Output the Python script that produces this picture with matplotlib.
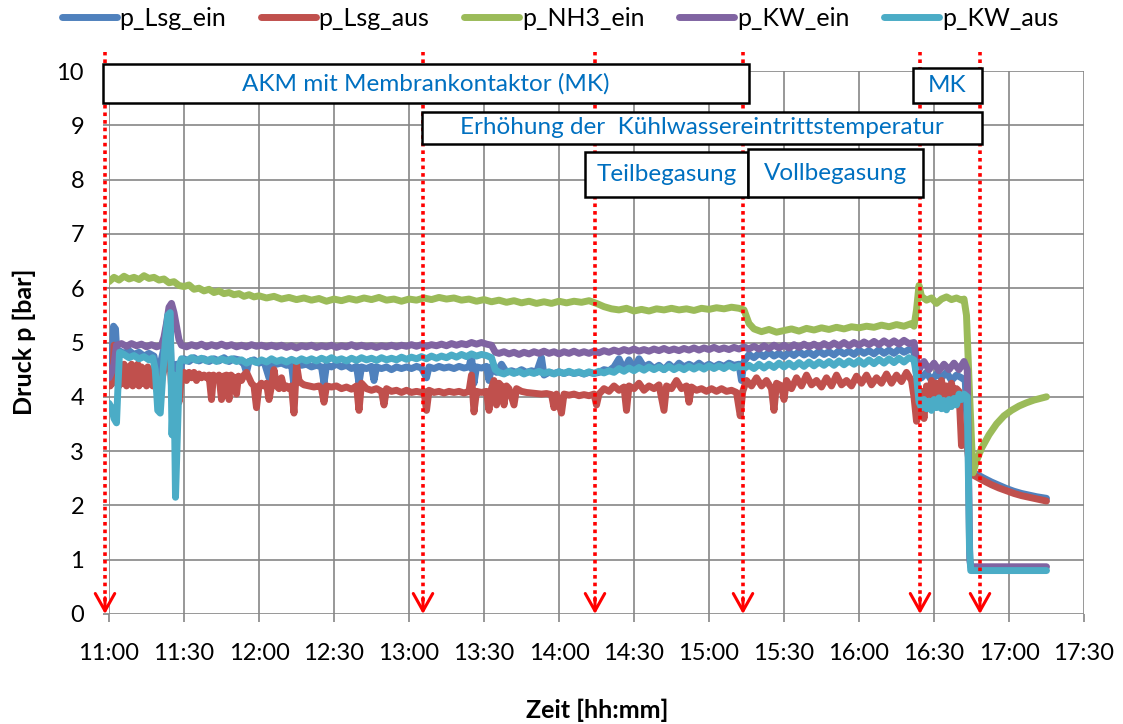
import matplotlib
matplotlib.use("Agg")
import matplotlib.pyplot as plt
from matplotlib.patches import Rectangle

plt.rcParams['font.family'] = ['Lato', 'DejaVu Sans']

# Messwerte: (Minuten ab 11:00, Druck in bar)
p_Lsg_ein = [
    (0, 4.3), (1, 4.5), (1.8, 5.3), (2.6, 5.25), (3.2, 4.75), (4, 4.85), (6, 4.8), (8, 4.85), (10, 4.78),
    (12, 4.82), (14, 4.75), (16, 4.8), (18, 4.75), (19, 4.5), (20, 4.3), (21, 4.7), (22, 4.9), (23, 5.3),
    (24, 5.55), (25, 4.5), (26, 3.6), (27, 4.6), (28, 4.0), (29, 4.6), (30, 4.7), (32, 4.65), (34, 4.72),
    (36, 4.66), (38, 4.7), (40, 4.65), (42, 4.7), (44, 4.66), (46, 4.72), (48, 4.65), (50, 4.7), (52, 4.68),
    (54, 4.6), (55, 4.45), (56, 4.65), (58, 4.68), (60, 4.62), (62, 4.65), (64, 4.35), (65, 4.65), (67, 4.6),
    (69, 4.62), (71, 4.58), (73, 4.6), (74, 4.2), (75, 4.6), (77, 4.58), (79, 4.6), (81, 4.55), (83, 4.58),
    (85, 4.55), (86, 4.25), (87, 4.58), (89, 4.55), (91, 4.6), (93, 4.55), (95, 4.58), (97, 4.52), (99, 4.56),
    (100, 4.25), (101, 4.55), (103, 4.52), (105, 4.56), (106, 4.3), (107, 4.55), (109, 4.52), (111, 4.55),
    (113, 4.5), (115, 4.55), (117, 4.52), (119, 4.55), (121, 4.52), (123, 4.56), (125, 4.53), (127, 4.35),
    (128, 4.55), (130, 4.52), (132, 4.56), (134, 4.53), (136, 4.55), (138, 4.52), (140, 4.56), (142, 4.53),
    (144, 4.55), (145, 4.75), (146, 4.25), (147, 4.55), (149, 4.53), (151, 4.56), (152, 4.3), (153, 4.55),
    (155, 4.45), (157, 4.6), (159, 4.45), (161, 4.48), (163, 4.45), (165, 4.5), (167, 4.45), (169, 4.48),
    (171, 4.45), (173, 4.72), (174, 4.4), (176, 4.45), (178, 4.43), (180, 4.46), (182, 4.43), (184, 4.46),
    (186, 4.43), (188, 4.45), (190, 4.42), (192, 4.45), (194, 4.43), (196, 4.45), (198, 4.5), (200, 4.48),
    (202, 4.55), (204, 4.7), (206, 4.5), (208, 4.68), (210, 4.52), (212, 4.7), (214, 4.55), (216, 4.6),
    (218, 4.52), (220, 4.58), (222, 4.5), (224, 4.6), (226, 4.52), (228, 4.62), (230, 4.55), (232, 4.6),
    (234, 4.55), (236, 4.62), (238, 4.55), (240, 4.6), (242, 4.55), (244, 4.6), (246, 4.56), (248, 4.62),
    (250, 4.58), (252, 4.6), (253, 4.3), (254, 4.65), (256, 4.78), (258, 4.72), (260, 4.8), (262, 4.74),
    (264, 4.82), (266, 4.75), (268, 4.8), (270, 4.74), (272, 4.82), (274, 4.76), (276, 4.83), (278, 4.77),
    (280, 4.82), (282, 4.76), (284, 4.84), (286, 4.78), (288, 4.83), (290, 4.77), (292, 4.85), (294, 4.79),
    (296, 4.84), (298, 4.78), (300, 4.86), (302, 4.8), (304, 4.85), (306, 4.79), (308, 4.87), (310, 4.8),
    (312, 4.86), (314, 4.8), (316, 4.88), (318, 4.82), (320, 4.87), (322, 4.85), (323, 4.4), (325, 4.35),
    (327, 4.45), (329, 4.3), (331, 4.42), (333, 4.35), (335, 4.45), (337, 4.3), (339, 4.4), (341, 4.35),
    (342.5, 4.3), (343.5, 3.2), (344.5, 2.65), (346, 2.6), (348, 2.55), (350, 2.5), (353, 2.43), (356, 2.37),
    (359, 2.31), (362, 2.26), (365, 2.22), (368, 2.19), (371, 2.16), (375, 2.13),
]

p_Lsg_aus = [
    (0, 4.45), (0.5, 4.2), (1, 4.5), (1.5, 4.25), (2, 4.95), (2.5, 4.9), (3, 4.3), (3.5, 4.6), (4, 4.2),
    (5, 4.55), (5.5, 4.25), (6, 4.6), (7, 4.2), (7.5, 4.55), (8, 4.3), (9, 4.6), (9.5, 4.2), (10, 4.5),
    (11, 4.25), (11.5, 4.6), (12, 4.2), (13, 4.55), (13.5, 4.25), (14, 4.5), (15, 4.2), (15.5, 4.55),
    (16, 4.25), (17, 4.5), (17.5, 4.2), (18, 4.45), (19, 4.2), (20, 3.9), (21, 4.3), (22, 4.5), (23, 4.6),
    (24, 5.0), (25, 4.2), (26, 3.6), (27, 4.3), (28, 3.9), (29, 4.4), (30, 4.45), (31, 4.3), (32, 4.45),
    (33, 4.35), (34, 4.45), (35, 4.3), (36, 4.42), (37, 4.35), (38, 4.4), (39, 4.35), (40, 4.4), (41, 3.95),
    (41.8, 4.4), (43, 4.35), (44, 4.4), (45, 3.95), (45.8, 4.38), (47, 4.4), (48, 3.95), (48.8, 4.4),
    (50, 4.35), (51, 4.05), (51.8, 4.38), (53, 4.3), (54, 4.4), (55, 4.45), (56, 4.35), (57, 4.25),
    (58, 4.2), (59, 3.8), (60, 4.2), (61, 4.25), (62, 4.2), (63, 4.25), (64, 3.95), (65, 4.2), (66, 4.5),
    (67, 4.2), (68, 4.15), (69, 4.35), (70, 4.15), (71, 4.2), (72, 4.15), (73, 4.2), (74, 3.7), (75, 4.6),
    (76, 4.3), (77, 4.25), (78, 4.22), (80, 4.2), (82, 4.18), (84, 4.2), (85, 4.15), (86, 3.9), (87, 4.2),
    (89, 4.18), (91, 4.2), (93, 4.15), (95, 4.18), (97, 4.14), (99, 4.2), (100, 3.75), (101, 4.25),
    (103, 4.15), (105, 4.12), (107, 4.15), (109, 4.1), (110, 3.85), (111, 4.15), (113, 4.1), (115, 4.12),
    (117, 4.08), (119, 4.12), (121, 4.08), (123, 4.1), (125, 4.08), (126, 4.1), (127, 3.75), (128, 4.12),
    (130, 4.08), (132, 4.1), (134, 4.07), (136, 4.1), (138, 4.08), (140, 4.1), (142, 4.07), (144, 4.1),
    (145, 4.4), (146, 3.72), (147, 4.1), (149, 4.08), (151, 4.1), (152, 3.75), (153, 4.15), (154, 4.3),
    (155, 3.85), (156, 4.25), (157, 4.2), (158, 3.85), (159, 4.2), (160, 4.15), (162, 3.85), (163, 4.15),
    (165, 4.1), (167, 4.08), (169, 4.07), (171, 4.06), (173, 4.05), (175, 4.06), (177, 4.04), (178, 3.8),
    (179, 4.05), (181, 3.7), (182, 4.05), (184, 4.03), (186, 4.05), (188, 4.02), (190, 4.04), (192, 4.02),
    (194, 4.05), (195, 3.85), (196, 4.05), (198, 4.15), (200, 4.1), (202, 4.2), (204, 4.12), (206, 4.18),
    (207, 3.75), (208, 4.2), (210, 4.15), (212, 4.25), (214, 4.12), (216, 4.2), (218, 4.15), (220, 4.22),
    (222, 3.75), (223, 4.2), (225, 4.15), (227, 4.3), (229, 4.15), (231, 4.2), (232, 3.9), (233, 4.18),
    (235, 4.12), (237, 4.15), (239, 4.1), (241, 4.15), (243, 4.1), (245, 4.15), (247, 4.1), (249, 4.12),
    (251, 4.08), (252.5, 3.65), (253.5, 4.1), (255, 4.3), (257, 4.2), (259, 4.35), (261, 4.2), (263, 4.3),
    (265, 4.15), (266, 3.75), (267, 4.25), (269, 4.2), (270, 3.95), (271, 4.3), (273, 4.15), (275, 4.35),
    (277, 4.2), (279, 4.4), (281, 4.22), (283, 4.3), (285, 4.18), (287, 4.35), (289, 4.2), (291, 4.4),
    (293, 4.22), (295, 4.3), (297, 4.2), (299, 4.38), (301, 4.25), (303, 4.4), (305, 4.22), (307, 4.35),
    (309, 4.25), (311, 4.42), (313, 4.25), (315, 4.4), (317, 4.28), (319, 4.45), (321, 4.3), (322, 4.0),
    (323, 3.55), (324, 3.7), (325, 4.1), (326, 3.6), (327, 4.2), (328, 3.9), (329, 4.3), (330, 4.0),
    (331, 4.25), (332, 3.95), (333, 4.3), (334, 4.05), (335, 4.2), (336, 3.9), (337, 4.25), (338, 4.0),
    (339, 4.15), (340, 4.1), (341, 3.1), (341.8, 3.4), (342.5, 3.3), (343.5, 3.0), (344.5, 2.6),
    (346, 2.55), (348, 2.5), (350, 2.45), (353, 2.38), (356, 2.32), (359, 2.27), (362, 2.22), (365, 2.18),
    (368, 2.15), (371, 2.12), (375, 2.08),
]

p_NH3_ein = [
    (0, 6.12), (2, 6.2), (4, 6.15), (6, 6.22), (8, 6.17), (10, 6.2), (12, 6.16), (14, 6.23), (16, 6.18),
    (18, 6.2), (20, 6.15), (22, 6.17), (24, 6.1), (26, 6.12), (28, 6.05), (30, 6.03), (32, 6.06), (34, 5.98),
    (36, 6.0), (38, 5.95), (40, 5.98), (42, 5.92), (44, 5.95), (46, 5.9), (48, 5.92), (50, 5.88), (52, 5.9),
    (54, 5.85), (56, 5.88), (58, 5.84), (60, 5.86), (63, 5.82), (66, 5.85), (69, 5.8), (72, 5.83),
    (75, 5.79), (78, 5.82), (81, 5.78), (84, 5.81), (87, 5.76), (90, 5.8), (93, 5.77), (96, 5.81),
    (99, 5.78), (102, 5.82), (105, 5.79), (108, 5.83), (111, 5.78), (114, 5.8), (117, 5.76), (120, 5.8),
    (123, 5.78), (126, 5.82), (129, 5.79), (132, 5.83), (135, 5.8), (138, 5.82), (141, 5.78), (144, 5.8),
    (147, 5.76), (150, 5.79), (153, 5.75), (156, 5.78), (159, 5.74), (162, 5.77), (165, 5.73), (168, 5.76),
    (171, 5.72), (174, 5.75), (177, 5.72), (180, 5.76), (183, 5.73), (186, 5.76), (189, 5.74), (192, 5.77),
    (195, 5.72), (198, 5.66), (201, 5.62), (204, 5.6), (207, 5.63), (210, 5.58), (213, 5.61), (216, 5.58),
    (219, 5.62), (222, 5.6), (225, 5.63), (228, 5.6), (231, 5.62), (234, 5.59), (237, 5.63), (240, 5.61),
    (243, 5.64), (246, 5.62), (249, 5.65), (252, 5.63), (254, 5.6), (256, 5.35), (258, 5.25), (261, 5.2),
    (264, 5.24), (267, 5.19), (270, 5.22), (273, 5.25), (276, 5.21), (279, 5.26), (282, 5.23), (285, 5.27),
    (288, 5.24), (291, 5.28), (294, 5.25), (297, 5.29), (300, 5.27), (303, 5.3), (306, 5.28), (309, 5.32),
    (312, 5.29), (315, 5.33), (318, 5.3), (321, 5.35), (322, 5.3), (323, 5.6), (324, 6.05), (325, 5.85),
    (327, 5.78), (329, 5.82), (331, 5.72), (333, 5.8), (335, 5.84), (337, 5.79), (339, 5.82), (341, 5.78),
    (342, 5.8), (343, 5.5), (344, 4.3), (345, 3.2), (345.6, 2.6), (347, 2.82), (349, 3.05), (352, 3.3),
    (355, 3.5), (358, 3.65), (361, 3.75), (364, 3.83), (367, 3.89), (370, 3.94), (375, 4.0),
]

p_KW_ein = [
    (0, 4.35), (1, 4.45), (2, 4.6), (3, 4.95), (5, 4.98), (7, 4.93), (9, 4.98), (11, 4.94), (13, 4.97),
    (15, 4.92), (17, 4.96), (19, 4.92), (21, 4.95), (22, 5.1), (23, 5.35), (24, 5.65), (25, 5.72),
    (26, 5.55), (27, 5.3), (28, 5.05), (29, 4.95), (31, 4.92), (33, 4.96), (35, 4.93), (37, 4.97),
    (39, 4.92), (41, 4.96), (43, 4.93), (45, 4.97), (47, 4.93), (49, 4.96), (51, 4.92), (53, 4.95),
    (55, 4.92), (57, 4.96), (59, 4.93), (61, 4.95), (63, 4.92), (65, 4.95), (67, 4.92), (69, 4.95),
    (71, 4.91), (73, 4.94), (75, 4.9), (77, 4.94), (79, 4.92), (81, 4.95), (83, 4.91), (85, 4.94),
    (87, 4.92), (89, 4.95), (91, 4.91), (93, 4.94), (95, 4.92), (97, 4.96), (99, 4.92), (101, 4.95),
    (103, 4.92), (105, 4.94), (107, 4.91), (109, 4.94), (111, 4.92), (113, 4.95), (115, 4.92), (117, 4.95),
    (119, 4.93), (121, 4.96), (123, 4.93), (125, 4.96), (127, 4.93), (129, 4.96), (131, 4.94), (133, 4.97),
    (135, 4.94), (137, 4.98), (139, 4.95), (141, 4.98), (143, 4.96), (145, 5.0), (147, 4.97), (149, 5.0),
    (151, 4.97), (153, 4.95), (154.5, 4.82), (156, 4.8), (158, 4.83), (160, 4.79), (162, 4.82), (164, 4.78),
    (166, 4.82), (168, 4.79), (170, 4.83), (172, 4.8), (174, 4.84), (176, 4.8), (178, 4.83), (180, 4.79),
    (182, 4.83), (184, 4.8), (186, 4.84), (188, 4.8), (190, 4.83), (192, 4.8), (194, 4.84), (196, 4.81),
    (198, 4.85), (200, 4.82), (202, 4.86), (204, 4.83), (206, 4.87), (208, 4.84), (210, 4.88), (212, 4.84),
    (214, 4.87), (216, 4.84), (218, 4.88), (220, 4.85), (222, 4.89), (224, 4.85), (226, 4.88), (228, 4.85),
    (230, 4.89), (232, 4.86), (234, 4.9), (236, 4.86), (238, 4.9), (240, 4.87), (242, 4.91), (244, 4.87),
    (246, 4.9), (248, 4.87), (250, 4.91), (252, 4.88), (254, 4.92), (256, 4.88), (258, 4.93), (260, 4.88),
    (262, 4.94), (264, 4.89), (266, 4.95), (268, 4.9), (270, 4.95), (272, 4.9), (274, 4.96), (276, 4.91),
    (278, 4.97), (280, 4.92), (282, 4.97), (284, 4.92), (286, 4.98), (288, 4.93), (290, 4.99), (292, 4.94),
    (294, 5.0), (296, 4.94), (298, 5.0), (300, 4.95), (302, 5.01), (304, 4.96), (306, 5.02), (308, 4.96),
    (310, 5.03), (312, 4.97), (314, 5.03), (316, 4.97), (318, 5.04), (320, 4.98), (322, 5.0), (323, 4.7),
    (324, 4.5), (326, 4.65), (328, 4.5), (330, 4.62), (332, 4.48), (334, 4.6), (336, 4.5), (338, 4.62),
    (340, 4.5), (342, 4.65), (343.3, 4.5), (344.3, 1.0), (344.8, 0.87), (375, 0.87),
]

p_KW_aus = [
    (0, 3.88), (1, 3.8), (2, 3.6), (3, 3.52), (3.6, 4.2), (4.2, 4.82), (6, 4.78), (8, 4.72), (10, 4.76),
    (12, 4.7), (14, 4.74), (16, 4.68), (17.5, 4.72), (18.5, 4.5), (19.5, 3.75), (20.5, 3.7), (21.5, 4.4),
    (22.5, 5.0), (23.5, 5.5), (24.5, 5.55), (25.2, 3.3), (26, 4.4), (26.6, 2.15), (27.4, 3.4), (28.2, 4.6),
    (29, 4.7), (31, 4.66), (33, 4.72), (35, 4.67), (37, 4.71), (39, 4.66), (41, 4.7), (43, 4.65), (45, 4.7),
    (47, 4.66), (49, 4.7), (51, 4.65), (53, 4.68), (55, 4.62), (57, 4.67), (59, 4.63), (61, 4.68),
    (63, 4.64), (65, 4.7), (67, 4.65), (69, 4.68), (71, 4.64), (73, 4.69), (75, 4.65), (77, 4.7), (79, 4.66),
    (81, 4.7), (83, 4.66), (85, 4.71), (87, 4.67), (89, 4.72), (91, 4.67), (93, 4.7), (95, 4.66), (97, 4.71),
    (99, 4.67), (101, 4.72), (103, 4.68), (105, 4.71), (107, 4.67), (109, 4.72), (111, 4.68), (113, 4.71),
    (115, 4.68), (117, 4.73), (119, 4.69), (121, 4.73), (123, 4.7), (125, 4.74), (127, 4.7), (129, 4.75),
    (131, 4.71), (133, 4.75), (135, 4.72), (137, 4.77), (139, 4.73), (141, 4.78), (143, 4.74), (145, 4.79),
    (147, 4.75), (149, 4.78), (151, 4.76), (153, 4.72), (154.5, 4.5), (156, 4.45), (158, 4.42), (160, 4.47),
    (162, 4.43), (164, 4.47), (166, 4.42), (168, 4.46), (170, 4.43), (172, 4.47), (174, 4.43), (176, 4.46),
    (178, 4.42), (180, 4.46), (182, 4.43), (184, 4.47), (186, 4.43), (188, 4.46), (190, 4.42), (192, 4.46),
    (194, 4.43), (196, 4.47), (198, 4.44), (200, 4.48), (202, 4.45), (204, 4.52), (206, 4.47), (208, 4.53),
    (210, 4.48), (212, 4.54), (214, 4.49), (216, 4.55), (218, 4.5), (220, 4.55), (222, 4.5), (224, 4.56),
    (226, 4.5), (228, 4.55), (230, 4.5), (232, 4.56), (234, 4.51), (236, 4.56), (238, 4.51), (240, 4.57),
    (242, 4.52), (244, 4.57), (246, 4.52), (248, 4.58), (250, 4.53), (252, 4.57), (254, 4.52), (256, 4.58),
    (258, 4.52), (260, 4.6), (262, 4.53), (264, 4.6), (266, 4.54), (268, 4.62), (270, 4.55), (272, 4.62),
    (274, 4.55), (276, 4.63), (278, 4.56), (280, 4.64), (282, 4.57), (284, 4.64), (286, 4.58), (288, 4.65),
    (290, 4.58), (292, 4.66), (294, 4.59), (296, 4.66), (298, 4.6), (300, 4.67), (302, 4.6), (304, 4.68),
    (306, 4.61), (308, 4.69), (310, 4.62), (312, 4.7), (314, 4.63), (316, 4.71), (318, 4.64), (320, 4.72),
    (322, 4.68), (323, 4.4), (324, 3.9), (325, 3.8), (326, 3.95), (327, 3.78), (328, 3.92), (329, 3.75),
    (330, 3.95), (331, 3.8), (332, 3.98), (333, 3.78), (334, 3.93), (335, 3.76), (336, 3.95), (337, 3.82),
    (338, 3.97), (339, 3.85), (340, 4.05), (341, 3.95), (342, 4.05), (343.3, 4.0), (344.2, 1.2),
    (344.7, 0.8), (375, 0.8),
]

series_names = ["p_Lsg_ein", "p_Lsg_aus", "p_NH3_ein", "p_KW_ein", "p_KW_aus"]
series_data = [p_Lsg_ein, p_Lsg_aus, p_NH3_ein, p_KW_ein, p_KW_aus]
series_colors = ["#4F81BD", "#C0504D", "#9BBB59", "#8064A2", "#4BACC6"]

x_ticks = list(range(0, 391, 30))
x_labels = ["11:00", "11:30", "12:00", "12:30", "13:00", "13:30", "14:00",
            "14:30", "15:00", "15:30", "16:00", "16:30", "17:00", "17:30"]

# Versuchsphasen (Zeitpunkte der Umschaltungen in Minuten ab 11:00)
event_times = [-1.6, 125.6, 194.4, 253.6, 324.4, 348.4]

# Beschriftete Phasen-Kästen: Text, x0, x1, y0, y1
phase_boxes = [
    ("AKM mit Membrankontaktor (MK)", -2.4, 256.0, 9.41, 10.13),
    ("MK", 321.6, 349.2, 9.41, 10.06),
    ("Erhöhung der  Kühlwassereintrittstemperatur", 125.2, 349.2, 8.66, 9.25),
    ("Teilbegasung", 190.4, 255.6, 7.68, 8.51),
    ("Vollbegasung", 255.6, 325.6, 7.68, 8.56),
]

W, H = 1123, 724
fig = plt.figure(figsize=(W / 100, H / 100), dpi=100)
ax = fig.add_axes([109 / W, 1 - 614 / H, (1084 - 109) / W, (614 - 71) / H])

lines = []
for name, data, col in zip(series_names, series_data, series_colors):
    t = [p[0] for p in data]
    v = [p[1] for p in data]
    ln, = ax.plot(t, v, color=col, lw=5.0, solid_joinstyle='round',
                  solid_capstyle='round', label=name, zorder=3)
    lines.append(ln)

ax.set_xlim(0, 390)
ax.set_ylim(0, 10)
ax.set_xticks(x_ticks)
ax.set_xticklabels(x_labels)
ax.set_yticks(range(0, 11))
ax.grid(True, color="#868686", lw=1.2, zorder=1)
ax.set_axisbelow(True)
for s in ax.spines.values():
    s.set_visible(False)
ax.tick_params(axis='x', direction='out', length=6, width=1.2, color="#868686",
               pad=15, labelsize=17)
ax.tick_params(axis='y', direction='out', length=4, width=1.2, color="#868686",
               pad=14, labelsize=17)

# Umschaltzeitpunkte als gepunktete Pfeile
arrow_top = 10.35
for t in event_times:
    ax.plot([t, t], [0.1, arrow_top], color="red", lw=2.6, linestyle=(0, (1, 1.1)),
            clip_on=False, zorder=4)
    ax.annotate("", xy=(t, 0), xytext=(t, 0.3),
                arrowprops=dict(arrowstyle="->, head_length=0.5, head_width=0.28",
                                color="red", lw=2.2, shrinkA=0, shrinkB=0,
                                mutation_scale=25),
                annotation_clip=False, zorder=4)

for label, x0, x1, y0, y1 in phase_boxes:
    ax.add_patch(Rectangle((x0, y0), x1 - x0, y1 - y0, facecolor="white",
                           edgecolor="black", lw=1.8, clip_on=False, zorder=5))
    ax.text((x0 + x1) / 2, (y0 + y1) / 2, label, color="#0070C0", fontsize=17.5,
            ha="center", va="center", zorder=6, clip_on=False)

fig.text(597 / W, 1 - 710 / H, "Zeit [hh:mm]", ha="center", va="center",
         fontsize=18, fontweight="bold")
fig.text(24 / W, 1 - 342 / H, "Druck p [bar]", ha="center", va="center",
         fontsize=18, fontweight="bold", rotation=90)

fig.legend(lines, series_names, loc="center", bbox_to_anchor=(560 / W, 1 - 18 / H),
           ncol=5, frameon=False, fontsize=18, handlelength=2.2, handletextpad=0.1,
           columnspacing=1.4, borderaxespad=0)

fig.savefig("out.png", dpi=100)
